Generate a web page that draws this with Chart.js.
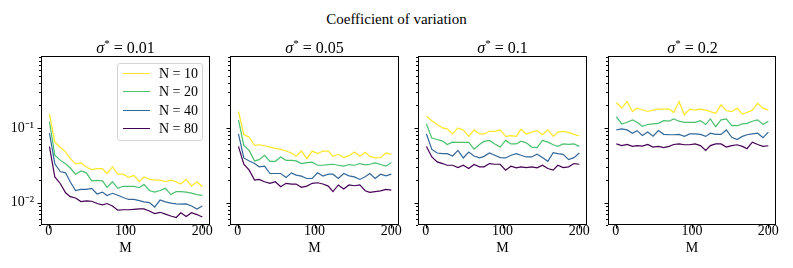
<!DOCTYPE html>
<html>
<head>
<meta charset="utf-8">
<script src="https://cdn.jsdelivr.net/npm/chart.js@4.4.1/dist/chart.umd.min.js"></script>
<style>
    body { margin: 0; width: 793px; height: 268px; background: #fff; position: relative; overflow: hidden;
           font-family: 'Liberation Serif', serif; color: #000; }
    canvas { position: absolute; top: 0; }
    .suptitle { position: absolute; left: 0; width: 793px; top: 11px; text-align: center; font-size: 15px; line-height: 17px; }
    .subtitle { position: absolute; top: 39px; width: 169px; text-align: center; font-size: 16px; line-height: 18px; }
    .subtitle sup { font-size: 11px; vertical-align: 6px; line-height: 0; }
    .legend { position: absolute; left: 117px; top: 63px; width: 84px; height: 76px; border: 1px solid #d4d4d4;
              border-radius: 3px; background: rgba(255,255,255,0.8); z-index: 5; }
    .legend .row { position: absolute; left: 0; height: 16px; font-size: 14px; line-height: 16px; }
    .legend .swatch { position: absolute; left: 5px; top: 7px; width: 27px; height: 0; border-top: 1.5px solid; }
    .legend .lbl { position: absolute; left: 41px; top: 0; white-space: nowrap; }
</style>
</head>
<body>
<div class="suptitle">Coefficient of variation</div>
<div class="legend" id="legend"></div>

<canvas id="c1" width="222" height="268" style="left:0px"></canvas>
<canvas id="c2" width="222" height="268" style="left:189px"></canvas>
<canvas id="c3" width="222" height="268" style="left:377px"></canvas>
<canvas id="c4" width="221" height="268" style="left:567px"></canvas>

<script>
// x values (M)
const M = [1, 8, 15, 22, 28, 35, 42, 49, 56, 63, 70, 76, 83, 90, 97, 104, 111, 118, 124, 131, 138, 145, 152, 159, 166, 172, 179, 186, 193, 200];

const sigmas = ['0.01', '0.05', '0.1', '0.2'];
const nLabels = ['N = 10', 'N = 20', 'N = 40', 'N = 80'];
const colors = ['#fde725', '#4ac16d', '#33689a', '#440154'];

// sigma* = 0.01
const s001_n10 = [0.153, 0.0645, 0.055, 0.0475, 0.039, 0.033, 0.034, 0.030, 0.0277, 0.0285, 0.0285, 0.0245, 0.030, 0.024, 0.024, 0.0217, 0.023, 0.019, 0.022, 0.0205, 0.020, 0.020, 0.019, 0.020, 0.019, 0.0177, 0.0205, 0.0167, 0.019, 0.0163];
const s001_n20 = [0.122, 0.043, 0.037, 0.033, 0.029, 0.024, 0.0265, 0.025, 0.0195, 0.0198, 0.0195, 0.016, 0.019, 0.0155, 0.0165, 0.0165, 0.0165, 0.0158, 0.0175, 0.0145, 0.0138, 0.0145, 0.0155, 0.0128, 0.014, 0.014, 0.0138, 0.0134, 0.0128, 0.0125];
const s001_n40 = [0.085, 0.033, 0.026, 0.025, 0.019, 0.0145, 0.015, 0.015, 0.0155, 0.013, 0.0138, 0.0124, 0.0133, 0.0125, 0.0117, 0.011, 0.011, 0.0106, 0.0102, 0.010, 0.0087, 0.0108, 0.0102, 0.0098, 0.0096, 0.0095, 0.0096, 0.009, 0.0082, 0.009];
const s001_n80 = [0.056, 0.022, 0.018, 0.0135, 0.012, 0.0115, 0.0103, 0.0105, 0.0104, 0.0097, 0.0093, 0.0097, 0.009, 0.0079, 0.008, 0.008, 0.0081, 0.0082, 0.0082, 0.0077, 0.0071, 0.0074, 0.007, 0.0066, 0.0063, 0.0073, 0.0065, 0.0073, 0.0069, 0.0064];

// sigma* = 0.05
const s005_n10 = [0.166, 0.0816, 0.0751, 0.0582, 0.0595, 0.0577, 0.0554, 0.0532, 0.0515, 0.049, 0.0461, 0.0416, 0.049, 0.0388, 0.049, 0.0452, 0.049, 0.049, 0.0416, 0.0443, 0.040, 0.0425, 0.0475, 0.0416, 0.0471, 0.0416, 0.0396, 0.040, 0.0461, 0.0443];
const s005_n20 = [0.128, 0.0582, 0.050, 0.0361, 0.0376, 0.043, 0.0357, 0.0357, 0.0408, 0.0368, 0.0368, 0.0361, 0.0333, 0.0343, 0.0347, 0.0316, 0.0316, 0.0323, 0.0326, 0.0316, 0.0307, 0.0323, 0.0316, 0.0333, 0.0319, 0.0326, 0.034, 0.0323, 0.0307, 0.0343];
const s005_n40 = [0.083, 0.0396, 0.0361, 0.0333, 0.0301, 0.0307, 0.0245, 0.0245, 0.0245, 0.0217, 0.025, 0.0233, 0.0226, 0.021, 0.021, 0.025, 0.0226, 0.024, 0.024, 0.021, 0.0245, 0.0228, 0.0221, 0.0204, 0.0221, 0.0245, 0.021, 0.024, 0.0228, 0.024];
const s005_n80 = [0.0565, 0.0326, 0.0272, 0.020, 0.0204, 0.019, 0.0181, 0.019, 0.0163, 0.0181, 0.0177, 0.0177, 0.016, 0.0166, 0.0181, 0.0184, 0.0177, 0.0166, 0.014, 0.0172, 0.0152, 0.0172, 0.0168, 0.0172, 0.0144, 0.0137, 0.014, 0.0143, 0.015, 0.0147];

// sigma* = 0.1
const s01_n10 = [0.143, 0.125, 0.111, 0.100, 0.097, 0.083, 0.100, 0.094, 0.077, 0.094, 0.083, 0.083, 0.090, 0.090, 0.094, 0.077, 0.079, 0.077, 0.096, 0.083, 0.088, 0.092, 0.081, 0.094, 0.077, 0.088, 0.090, 0.087, 0.082, 0.078];
const s01_n20 = [0.113, 0.073, 0.070, 0.0665, 0.060, 0.0645, 0.064, 0.064, 0.064, 0.052, 0.060, 0.066, 0.068, 0.061, 0.0554, 0.068, 0.061, 0.061, 0.0665, 0.063, 0.0554, 0.0543, 0.068, 0.0645, 0.0595, 0.0565, 0.061, 0.060, 0.061, 0.0565];
const s01_n40 = [0.083, 0.0515, 0.0461, 0.0452, 0.0452, 0.0421, 0.050, 0.0396, 0.0475, 0.0421, 0.0396, 0.0416, 0.0461, 0.043, 0.040, 0.0396, 0.043, 0.0452, 0.043, 0.0408, 0.0408, 0.0443, 0.040, 0.0357, 0.0466, 0.0452, 0.0443, 0.0376, 0.040, 0.0461];
const s01_n80 = [0.0565, 0.0408, 0.035, 0.0333, 0.0316, 0.0316, 0.0294, 0.0316, 0.0286, 0.0323, 0.0301, 0.0301, 0.0333, 0.0326, 0.0326, 0.0272, 0.0307, 0.0292, 0.0301, 0.0294, 0.0301, 0.0292, 0.0316, 0.0286, 0.0272, 0.0316, 0.0294, 0.0301, 0.0333, 0.0326];

// sigma* = 0.2
const s02_n10 = [0.219, 0.184, 0.226, 0.166, 0.184, 0.175, 0.166, 0.173, 0.179, 0.179, 0.179, 0.161, 0.226, 0.150, 0.179, 0.173, 0.179, 0.173, 0.165, 0.157, 0.204, 0.170, 0.165, 0.184, 0.153, 0.161, 0.173, 0.213, 0.184, 0.173];
const s02_n20 = [0.141, 0.113, 0.119, 0.128, 0.119, 0.105, 0.111, 0.113, 0.115, 0.125, 0.123, 0.132, 0.123, 0.119, 0.119, 0.119, 0.125, 0.111, 0.132, 0.104, 0.128, 0.132, 0.107, 0.107, 0.113, 0.115, 0.123, 0.128, 0.111, 0.123];
const s02_n40 = [0.094, 0.097, 0.094, 0.085, 0.092, 0.079, 0.088, 0.0775, 0.092, 0.082, 0.081, 0.081, 0.082, 0.077, 0.083, 0.083, 0.082, 0.077, 0.085, 0.082, 0.082, 0.094, 0.075, 0.070, 0.077, 0.081, 0.083, 0.085, 0.074, 0.088];
const s02_n80 = [0.061, 0.058, 0.060, 0.0565, 0.058, 0.057, 0.060, 0.0554, 0.0565, 0.0543, 0.0565, 0.060, 0.061, 0.0595, 0.0595, 0.061, 0.058, 0.050, 0.058, 0.061, 0.061, 0.0554, 0.058, 0.0595, 0.0565, 0.0526, 0.0645, 0.060, 0.0565, 0.0577];

const xTicks = [0, 100, 200];
const yMin = 0.005, yMax = 0.92;
const fontFamily = "'Liberation Serif', serif";

// frame round the axes + matplotlib style outward ticks
const frameTicks = {
    id: 'frameTicks',
    afterDraw(chart) {
        const { ctx, chartArea: a, scales: { x, y } } = chart;
        ctx.save();
        ctx.strokeStyle = '#000';
        ctx.lineWidth = 1;
        ctx.strokeRect(Math.round(a.left) + 0.5, Math.round(a.top) + 0.5,
                       Math.round(a.right - a.left) - 1, Math.round(a.bottom - a.top) - 1);
        ctx.beginPath();
        for (let e = -3; e <= 0; e++) {
            for (let m = 1; m <= 9; m++) {
                const v = m * Math.pow(10, e);
                if (v < yMin || v > yMax) continue;
                const py = Math.round(y.getPixelForValue(v)) + 0.5;
                const len = m === 1 ? 3.5 : 2;
                ctx.moveTo(a.left - len, py);
                ctx.lineTo(a.left, py);
            }
        }
        xTicks.forEach(v => {
            const px = Math.round(x.getPixelForValue(v)) + 0.5;
            ctx.moveTo(px, a.bottom);
            ctx.lineTo(px, a.bottom + 3.5);
        });
        ctx.stroke();
        ctx.restore();
    }
};

function makePanel(id, series, showYLabels) {
    const ds = series.map((vals, i) => ({
        label: nLabels[i],
        data: M.map((m, j) => ({ x: m, y: vals[j] })),
        borderColor: colors[i],
        borderWidth: 1.2,
        pointRadius: 0,
        fill: false,
        tension: 0
    }));

    new Chart(document.getElementById(id).getContext('2d'), {
        type: 'line',
        data: { datasets: ds },
        options: {
            responsive: false,
            animation: false,
            layout: { padding: { top: 56, left: 0, right: 12, bottom: 0 } },
            plugins: { legend: { display: false }, tooltip: { enabled: false } },
            scales: {
                x: {
                    type: 'linear',
                    min: -10,
                    max: 210,
                    afterFit(s) { s.height = 43; s.paddingLeft = 0; s.paddingRight = 0; },
                    afterBuildTicks(s) { s.ticks = xTicks.map(v => ({ value: v })); },
                    grid: { display: false, drawTicks: false },
                    border: { display: false },
                    ticks: { color: '#000', padding: -2, maxRotation: 0, font: { family: fontFamily, size: 14 } },
                    title: { display: true, text: 'M', color: '#000', padding: { top: 0, bottom: 11 },
                             font: { family: fontFamily, size: 14 } }
                },
                y: {
                    type: 'logarithmic',
                    min: yMin,
                    max: yMax,
                    afterFit(s) { s.width = 41; },
                    grid: { display: false, drawTicks: false },
                    border: { display: false },
                    ticks: {
                        display: showYLabels,
                        autoSkip: false,
                        color: '#000',
                        padding: 7,
                        font: { family: fontFamily, size: 14 },
                        callback(v) {
                            if (Math.abs(v - 0.1) < 1e-9) return '10\u207B\u00B9';
                            if (Math.abs(v - 0.01) < 1e-9) return '10\u207B\u00B2';
                            return '';
                        }
                    }
                }
            }
        },
        plugins: [frameTicks]
    });
}

makePanel('c1', [s001_n10, s001_n20, s001_n40, s001_n80], true);
makePanel('c2', [s005_n10, s005_n20, s005_n40, s005_n80], false);
makePanel('c3', [s01_n10, s01_n20, s01_n40, s01_n80], false);
makePanel('c4', [s02_n10, s02_n20, s02_n40, s02_n80], false);

// subplot titles
const areaLefts = [41, 230, 418, 608];
sigmas.forEach((s, i) => {
    const d = document.createElement('div');
    d.className = 'subtitle';
    d.style.left = areaLefts[i] + 'px';
    d.innerHTML = '<i>\u03C3</i><sup>*</sup> = ' + s;
    document.body.appendChild(d);
});

// legend inside first panel
const legend = document.getElementById('legend');
nLabels.forEach((lbl, i) => {
    const row = document.createElement('div');
    row.className = 'row';
    row.style.top = (2 + i * 18.4) + 'px';
    row.innerHTML = '<span class="swatch" style="border-color:' + colors[i] + '"></span><span class="lbl">' + lbl + '</span>';
    legend.appendChild(row);
});
</script>
</body>
</html>
